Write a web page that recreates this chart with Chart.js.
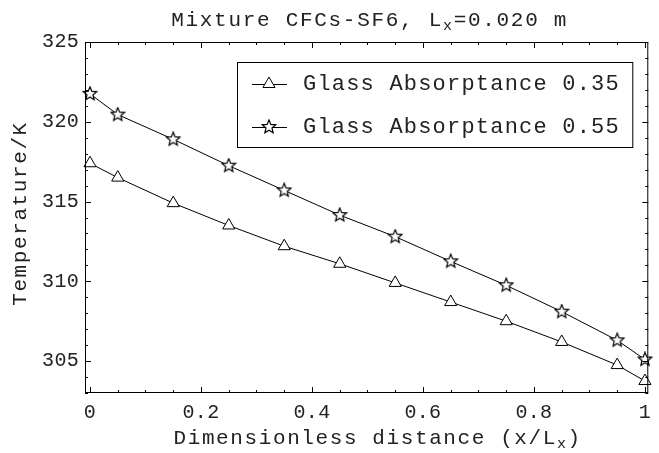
<!DOCTYPE html>
<html>
<head>
<meta charset="utf-8">
<script src="https://cdn.jsdelivr.net/npm/chart.js@4.4.0/dist/chart.umd.min.js"></script>
<style>
    html, body { margin: 0; padding: 0; background: #fff; }
</style>
</head>
<body>
<canvas id="tempChart" width="659" height="453"></canvas>
<script>
// Data
const positions = [0, 0.05, 0.15, 0.25, 0.35, 0.45, 0.55, 0.65, 0.75, 0.85, 0.95, 1.0];
const tempAbs035 = [317.4, 316.5, 314.9, 313.5, 312.2, 311.1, 309.9, 308.7, 307.5, 306.2, 304.75, 303.75];
const tempAbs055 = [321.75, 320.45, 318.9, 317.25, 315.7, 314.15, 312.8, 311.25, 309.75, 308.1, 306.3, 305.1];
const seriesLabels = ['Glass Absorptance 0.35', 'Glass Absorptance 0.55'];
const xTickValues = [0, 0.2, 0.4, 0.6, 0.8, 1];
const yTickValues = [305, 310, 315, 320, 325];

const FONT = '"Liberation Mono", "DejaVu Sans Mono", monospace';
const TEXT_COLOR = '#222';

/**
 * Hollow five-point star used as point style
 */
function makeStar(size) {
    const c = document.createElement('canvas');
    c.width = c.height = size;
    const g = c.getContext('2d');
    const cx = size / 2, cy = size / 2, R = size / 2 - 1, r = R * 0.45;
    g.beginPath();
    for (let i = 0; i < 10; i++) {
        const a = -Math.PI / 2 + i * Math.PI / 5;
        const rad = i % 2 ? r : R;
        g.lineTo(cx + rad * Math.cos(a), cy + rad * Math.sin(a));
    }
    g.closePath();
    g.fillStyle = '#fff';
    g.fill();
    g.strokeStyle = '#000';
    g.lineWidth = 1.2;
    g.stroke();
    return c;
}

const starImg = makeStar(16);

function drawMarker(ctx, style, x, y, radius) {
    if (style instanceof HTMLCanvasElement) {
        ctx.drawImage(style, x - style.width / 2, y - style.height / 2);
        return;
    }
    ctx.beginPath();
    for (let i = 0; i < 3; i++) {
        const a = i * 2 * Math.PI / 3;
        ctx.lineTo(x + Math.sin(a) * radius, y - Math.cos(a) * radius);
    }
    ctx.closePath();
    ctx.fillStyle = '#fff';
    ctx.fill();
    ctx.strokeStyle = '#000';
    ctx.lineWidth = 1;
    ctx.stroke();
}

/**
 * Draw a line of text with subscript parts, centred on (cx, cy)
 */
function drawSubText(ctx, parts, cx, cy, size, spacing) {
    ctx.save();
    ctx.letterSpacing = spacing + 'px';
    ctx.textBaseline = 'middle';
    ctx.textAlign = 'left';
    ctx.fillStyle = TEXT_COLOR;
    const widths = parts.map(p => {
        ctx.font = (p.sub ? Math.round(size * 0.7) : size) + 'px ' + FONT;
        return ctx.measureText(p.t).width;
    });
    const total = widths.reduce((s, w) => s + w, 0);
    let x = cx - total / 2;
    parts.forEach((p, i) => {
        ctx.font = (p.sub ? Math.round(size * 0.7) : size) + 'px ' + FONT;
        ctx.fillText(p.t, x, p.sub ? cy + size * 0.3 : cy);
        x += widths[i];
    });
    ctx.restore();
}

const spacingPlugin = {
    id: 'spacing',
    beforeDraw(chart) {
        chart.ctx.letterSpacing = '0.3px';
    }
};

const frameTicks = {
    id: 'frameTicks',
    afterDatasetsDraw(chart) {
        const { ctx, chartArea: a, scales: { x, y } } = chart;
        ctx.save();
        ctx.strokeStyle = '#000';
        ctx.lineWidth = 1;
        ctx.strokeRect(a.left + 0.5, a.top + 0.5, a.width - 1, a.height - 1);
        ctx.beginPath();
        for (let i = 0; i <= 20; i++) {
            const px = Math.round(x.getPixelForValue(i / 20)) + 0.5;
            const len = i % 4 === 0 ? 6 : 3;
            ctx.moveTo(px, a.bottom); ctx.lineTo(px, a.bottom - len);
            ctx.moveTo(px, a.top); ctx.lineTo(px, a.top + len);
        }
        for (let v = 303; v <= 325; v++) {
            const py = Math.round(y.getPixelForValue(v)) + 0.5;
            const len = v % 5 === 0 ? 6 : 3;
            ctx.moveTo(a.left, py); ctx.lineTo(a.left + len, py);
            ctx.moveTo(a.right, py); ctx.lineTo(a.right - len, py);
        }
        ctx.stroke();
        ctx.restore();
    }
};

const labelsPlugin = {
    id: 'labels',
    afterDraw(chart) {
        const { ctx, chartArea: a } = chart;
        const midX = (a.left + a.right) / 2;

        drawSubText(ctx, [{ t: 'Mixture CFCs-SF6, L' }, { t: 'x', sub: true }, { t: '=0.020 m' }],
            midX + 3, 20, 21, 1.7);
        drawSubText(ctx, [{ t: 'Dimensionless distance (x/L' }, { t: 'x', sub: true }, { t: ')' }],
            midX + 11, 438, 21, 1.6);

        ctx.save();
        ctx.translate(20, (a.top + a.bottom) / 2 - 4);
        ctx.rotate(-Math.PI / 2);
        drawSubText(ctx, [{ t: 'Temperature/K' }], 0, 0, 21, 1.6);
        ctx.restore();

        // legend box
        const left = a.left + 152, top = a.top + 20;
        const right = a.right - 16, bottom = a.top + 105;
        ctx.save();
        ctx.fillStyle = '#fff';
        ctx.fillRect(left, top, right - left, bottom - top);
        ctx.strokeStyle = '#000';
        ctx.lineWidth = 1;
        ctx.strokeRect(left + 0.5, top + 0.5, right - left, bottom - top);
        chart.data.datasets.forEach((ds, i) => {
            const yy = top + 22 + i * 43;
            ctx.beginPath();
            ctx.moveTo(left + 15, yy + 0.5);
            ctx.lineTo(left + 50, yy + 0.5);
            ctx.strokeStyle = '#000';
            ctx.stroke();
            drawMarker(ctx, ds.pointStyle, left + 32, yy, 7);
            ctx.letterSpacing = '1.2px';
            ctx.font = '22px ' + FONT;
            ctx.fillStyle = TEXT_COLOR;
            ctx.textBaseline = 'middle';
            ctx.textAlign = 'left';
            ctx.fillText(ds.label, left + 66, yy);
        });
        ctx.restore();
    }
};

const ctx = document.getElementById('tempChart').getContext('2d');

new Chart(ctx, {
    type: 'line',
    data: {
        datasets: [
            {
                label: seriesLabels[0],
                data: positions.map((p, i) => ({ x: p, y: tempAbs035[i] })),
                borderColor: '#000',
                borderWidth: 1,
                pointStyle: 'triangle',
                pointRadius: 7,
                pointBorderColor: '#000',
                pointBackgroundColor: '#fff',
                pointBorderWidth: 1,
                tension: 0
            },
            {
                label: seriesLabels[1],
                data: positions.map((p, i) => ({ x: p, y: tempAbs055[i] })),
                borderColor: '#000',
                borderWidth: 1,
                pointStyle: starImg,
                pointRadius: 7,
                tension: 0
            }
        ]
    },
    options: {
        responsive: false,
        animation: false,
        clip: false,
        layout: { padding: { top: 42, right: 6, left: 0, bottom: 0 } },
        plugins: {
            legend: { display: false },
            title: { display: false },
            tooltip: { enabled: false }
        },
        scales: {
            x: {
                type: 'linear',
                min: -0.009,
                max: 1.006,
                afterFit: (scale) => { scale.height = 60; },
                afterBuildTicks: (scale) => { scale.ticks = xTickValues.map(v => ({ value: v })); },
                grid: { display: false, drawTicks: false },
                border: { display: false },
                ticks: {
                    padding: 8,
                    color: TEXT_COLOR,
                    font: { family: FONT, size: 20 },
                    maxRotation: 0,
                    callback: (v) => String(v)
                }
            },
            y: {
                type: 'linear',
                min: 303,
                max: 325,
                afterFit: (scale) => { scale.width = 85; },
                afterBuildTicks: (scale) => { scale.ticks = yTickValues.map(v => ({ value: v })); },
                grid: { display: false, drawTicks: false },
                border: { display: false },
                ticks: {
                    padding: 6,
                    color: TEXT_COLOR,
                    font: { family: FONT, size: 20 },
                    callback: (v) => String(v)
                }
            }
        }
    },
    plugins: [spacingPlugin, frameTicks, labelsPlugin]
});
</script>
</body>
</html>
